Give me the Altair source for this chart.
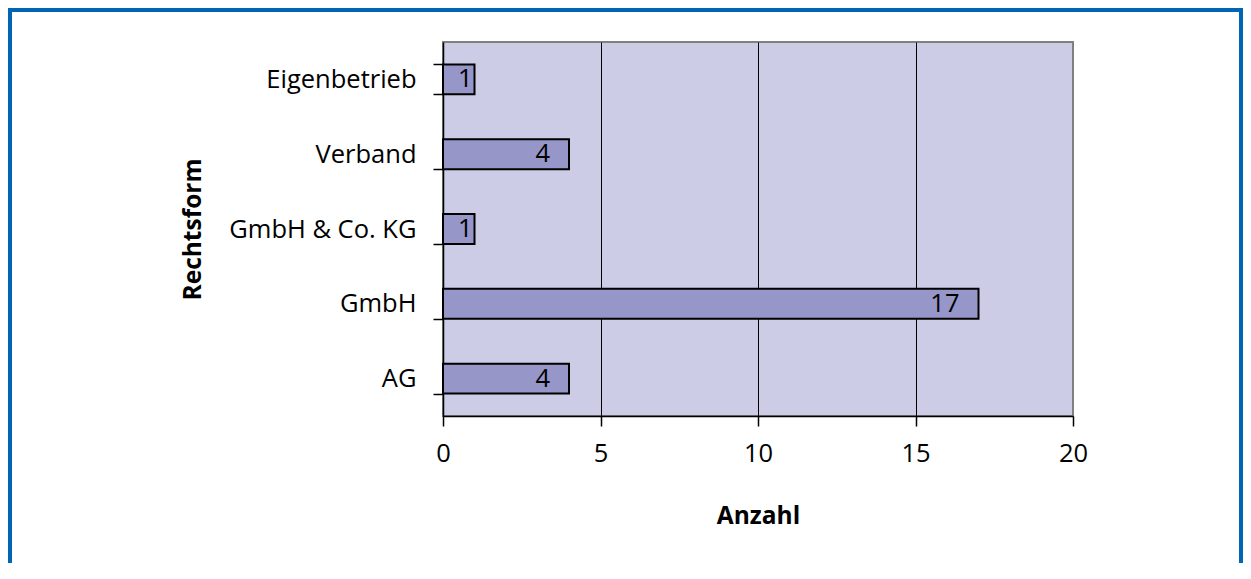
import altair as alt
import pandas as pd

categories = ["Eigenbetrieb", "Verband", "GmbH & Co. KG", "GmbH", "AG"]
values = [1, 4, 1, 17, 4]
x_ticks = [0, 5, 10, 15, 20]

df = pd.DataFrame({"Rechtsform": categories, "Anzahl": values})

FONT = "Open Sans"
LABEL_SIZE = 25.5

y_enc = alt.Y(
    "Rechtsform:N",
    sort=categories,
    scale=alt.Scale(paddingInner=0.6, paddingOuter=0.3),
    axis=alt.Axis(
        title="Rechtsform",
        tickBand="extent",
        tickSize=10,
        labelPadding=17,
        labelLimit=400,
        grid=False,
        titleX=-250,
        titleY=187,
        titleAngle=270,
        titleAlign="center",
        titleBaseline="middle",
    ),
)
x_enc = alt.X(
    "Anzahl:Q",
    scale=alt.Scale(domain=[0, 20], nice=False, zero=True),
    axis=alt.Axis(
        title="Anzahl",
        values=x_ticks,
        tickSize=10,
        labelPadding=15,
        labelFlush=False,
        labelOverlap=False,
        grid=True,
        gridColor="black",
        gridWidth=1,
        gridOpacity=alt.condition(
            "datum.value == 0 || datum.value == 20", alt.value(0), alt.value(1)
        ),
        titleX=315,
        titleY=100,
        titleAlign="center",
        titleBaseline="middle",
    ),
)

base = alt.Chart(df)

bars = base.mark_bar(fill="#9696C8", stroke="black", strokeWidth=2).encode(
    y=y_enc, x=x_enc
)

labels_long = (
    base.transform_filter("datum.Anzahl > 1")
    .mark_text(align="right", baseline="middle", dx=-19, font=FONT, fontSize=LABEL_SIZE, color="black")
    .encode(y=alt.Y("Rechtsform:N", sort=categories), x="Anzahl:Q", text="Anzahl:Q")
)
labels_short = (
    base.transform_filter("datum.Anzahl <= 1")
    .mark_text(align="right", baseline="middle", dx=-2, font=FONT, fontSize=LABEL_SIZE, color="black")
    .encode(y=alt.Y("Rechtsform:N", sort=categories), x="Anzahl:Q", text="Anzahl:Q")
)

frame = (
    alt.Chart(pd.DataFrame({"f": [0]}))
    .mark_rect(filled=False, stroke="#0066B3", strokeWidth=4)
    .encode(
        x=alt.value(-433),
        x2=alt.value(798),
        y=alt.value(-32),
        y2=alt.value(600),
    )
)

chart = (
    alt.layer(bars, labels_long, labels_short, frame)
    .properties(
        width=630,
        height=374,
        padding={"left": 435, "top": 34, "right": 170, "bottom": 147},
        autosize=alt.AutoSizeParams(type="none"),
        background="white",
    )
    .configure_view(fill="#CCCCE6", stroke="#808080", strokeWidth=2)
    .configure_axis(
        domainColor="black",
        domainWidth=1.5,
        tickColor="black",
        tickWidth=1.5,
        labelColor="black",
        labelFont=FONT,
        labelFontSize=LABEL_SIZE,
        titleColor="black",
        titleFont=FONT,
        titleFontSize=24.5,
        titleFontWeight="bold",
    )
)

chart.save("out.html", embed_options={"renderer": "svg", "actions": False})
